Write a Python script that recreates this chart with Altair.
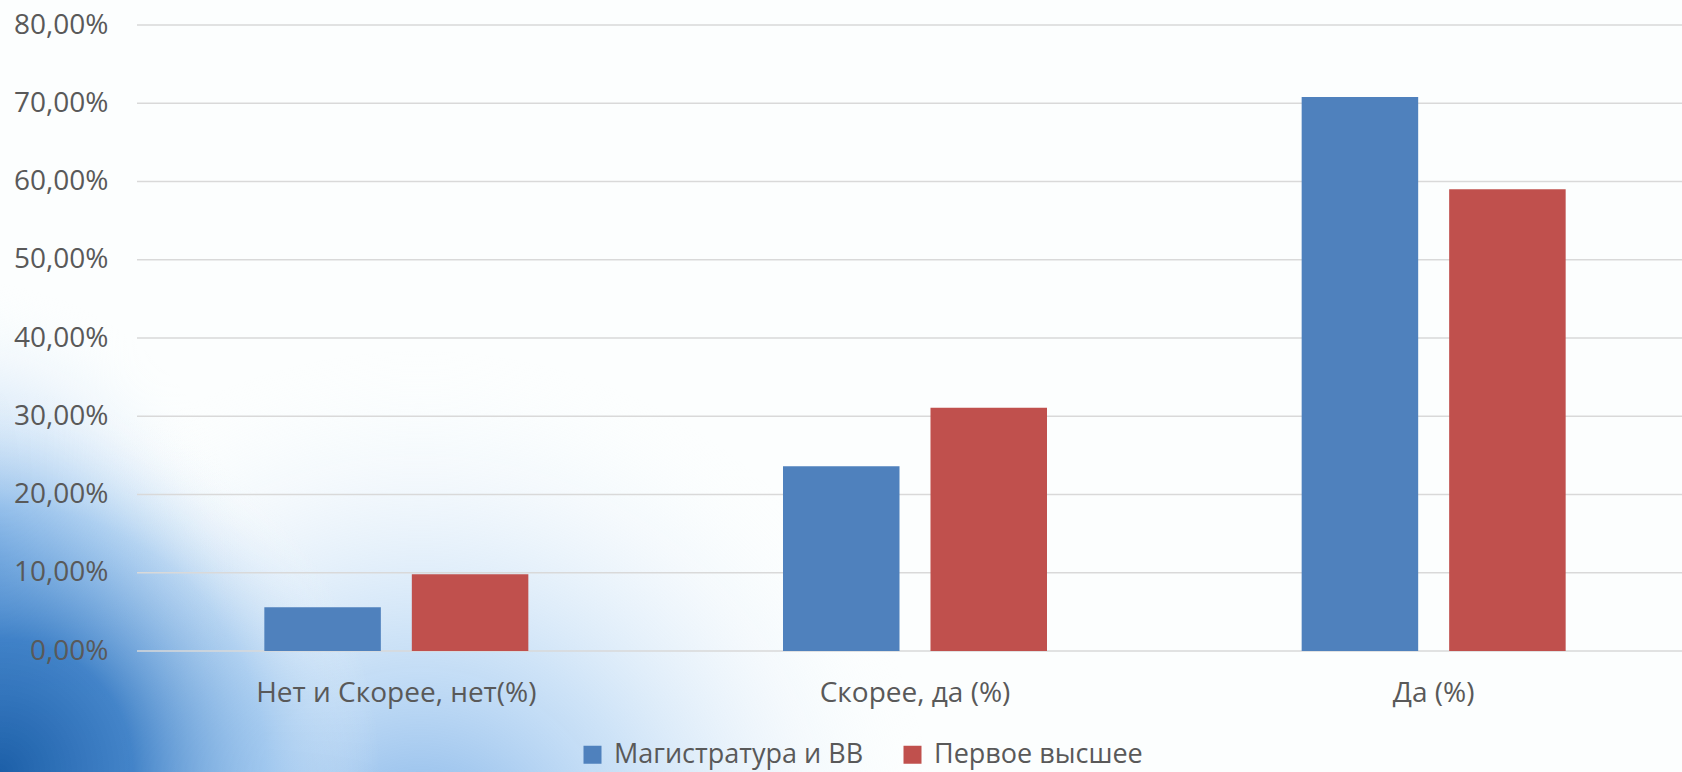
import altair as alt
import pandas as pd

categories = ["Нет и Скорее, нет(%)", "Скорее, да (%)", "Да (%)"]
series_names = ["Магистратура и ВВ", "Первое высшее"]
magistratura = [0.056, 0.236, 0.708]
pervoe = [0.098, 0.311, 0.590]
y_ticks = [0.0, 0.1, 0.2, 0.3, 0.4, 0.5, 0.6, 0.7, 0.8]
colors = ["#4F81BD", "#C0504D"]

rows = []
for c, a, b in zip(categories, magistratura, pervoe):
    rows.append({"cat": c, "series": series_names[0], "value": a})
    rows.append({"cat": c, "series": series_names[1], "value": b})
df = pd.DataFrame(rows)
grid_df = pd.DataFrame({"v": y_ticks})

W, H = 1545, 626
PL, PT = 137, 25
FONT = "Open Sans"
BG = "#FCFEFE"


def glow(cx, cy, r, stops):
    # decorative radial glow of the slide background, in chart pixel coords
    return alt.Chart(pd.DataFrame({"d": [0]})).mark_rect(
        fill=alt.RadialGradient(
            gradient="radial", x1=0.5, y1=0.5, r1=0, x2=0.5, y2=0.5, r2=0.5,
            stops=[alt.GradientStop(offset=o, color=c) for o, c in stops],
        )
    ).encode(
        x=alt.value(cx - r - PL), x2=alt.value(cx + r - PL),
        y=alt.value(cy - r - PT), y2=alt.value(cy + r - PT),
    )


glow_b = glow(420, 870, 520, [
    (0, "rgba(85,150,222,0.8)"), (0.45, "rgba(150,195,240,0.45)"),
    (1, "rgba(252,254,254,0)")])
glow_c = glow(-40, 560, 280, [
    (0, "rgba(75,140,212,0.75)"), (0.5, "rgba(150,195,240,0.35)"),
    (1, "rgba(252,254,254,0)")])
glow_a = glow(0, 772, 380, [
    (0, "rgba(28,95,168,1)"), (0.35, "rgba(50,120,195,0.9)"),
    (0.7, "rgba(120,175,230,0.45)"), (1, "rgba(252,254,254,0)")])

grid = alt.Chart(grid_df).mark_rule(color="#D9D9D9", strokeWidth=1.5).encode(
    y=alt.Y("v:Q", scale=alt.Scale(domain=[0, 0.8])),
)

bars = alt.Chart(df).mark_bar().encode(
    x=alt.X("cat:N", sort=categories, title=None,
            scale=alt.Scale(paddingInner=0.491, paddingOuter=0.2455, range=[0, 1556]),
            axis=alt.Axis(labelAngle=0, ticks=False, domain=False, labelPadding=28,
                          labelFont=FONT, labelFontSize=28, labelColor="#595959",
                          labelLimit=0, zindex=1)),
    xOffset=alt.XOffset("series:N", sort=series_names,
                        scale=alt.Scale(paddingInner=0.21, paddingOuter=0)),
    y=alt.Y("value:Q", title=None,
            scale=alt.Scale(domain=[0, 0.8], nice=False),
            axis=alt.Axis(values=y_ticks, grid=False, ticks=False, domain=False,
                          labelExpr="replace(format(datum.value, '.2%'), '.', ',')",
                          labelPadding=29, labelFont=FONT, labelFontSize=28,
                          labelColor="#595959", zindex=1)),
    color=alt.Color("series:N",
                    scale=alt.Scale(domain=series_names, range=colors),
                    legend=alt.Legend(title=None, orient="none", legendX=442, legendY=716,
                                      direction="horizontal", symbolType="square",
                                      symbolSize=324, symbolStrokeWidth=0,
                                      labelFont=FONT, labelFontSize=27,
                                      labelColor="#595959", labelOffset=8,
                                      columnPadding=35, labelLimit=0)),
)

chart = alt.layer(glow_b, glow_c, glow_a, grid, bars).properties(
    width=W, height=H,
    background=BG,
    padding={"left": PL, "top": PT, "right": 0, "bottom": 121},
    autosize=alt.AutoSizeParams(type="none"),
).configure_view(stroke=None)

chart.save("out.html", embed_options={"renderer": "svg", "actions": False})
